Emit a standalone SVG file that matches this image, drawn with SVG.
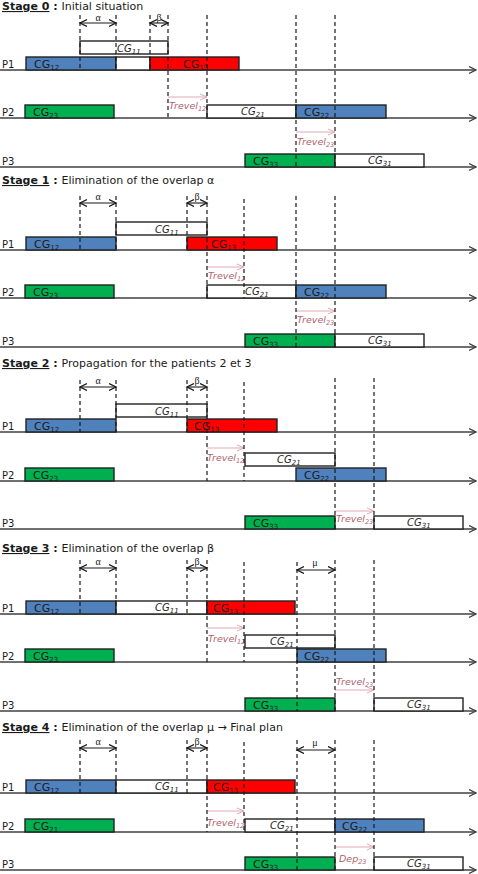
<svg xmlns="http://www.w3.org/2000/svg" width="478" height="874" viewBox="0 0 478 874">
<style>
.bg{fill:#fff}
.ax{stroke:#404040;stroke-width:1.5;fill:none;marker-end:url(#ah)}
.bx{stroke:#222;stroke-width:1.4}
.b{fill:#4f81bd}.r{fill:#ff0000}.g{fill:#00b050}.w{fill:#fff}
.d{stroke:#1a1a1a;stroke-width:1.2;stroke-dasharray:4 3;fill:none}
.m{stroke:#1a1a1a;stroke-width:1.1;fill:none;marker-start:url(#mh);marker-end:url(#mh)}
.t{stroke:#e3a9b2;stroke-width:1;fill:none;marker-end:url(#th)}
text{font-family:"DejaVu Sans","Verdana",sans-serif;fill:#1a1a1a}
.lb{font-size:11px}
.it{font-size:10px;font-style:italic}
.s{font-size:7px}
.tv{font-size:9.5px;font-style:italic;fill:#b35f6b}
.tv .s{font-size:6.5px}
.p{font-size:10px}
.gr{font-family:"Liberation Serif","DejaVu Serif",serif;font-size:10px}
.h{font-size:11px}
.hb{font-weight:bold}
.u{text-decoration:underline}
</style>
<defs>
<marker id="ah" markerUnits="userSpaceOnUse" markerWidth="9" markerHeight="9" refX="7" refY="4" orient="auto"><path d="M0,0.5 L7,4 L0,7.5" fill="none" stroke="#404040" stroke-width="1.3"/></marker>
<marker id="mh" markerUnits="userSpaceOnUse" markerWidth="10" markerHeight="10" refX="7" refY="4" orient="auto-start-reverse"><path d="M0,0.5 L7,4 L0,7.5" fill="none" stroke="#1a1a1a" stroke-width="1.3"/></marker>
<marker id="th" markerUnits="userSpaceOnUse" markerWidth="9" markerHeight="9" refX="7" refY="4" orient="auto"><path d="M0,1 L7,4 L0,7" fill="none" stroke="#e3a9b2" stroke-width="1"/></marker>
</defs>
<rect class="bg" x="0" y="0" width="478" height="874"/>

<!-- ================= STAGE 0 ================= -->
<g id="stage0">
<text class="h" x="2" y="10"><tspan class="hb u">Stage 0</tspan><tspan class="hb"> : </tspan>Initial situation</text>
<g id="s0-axes">
<line class="ax" x1="0" y1="70" x2="476" y2="70"/>
<line class="ax" x1="0" y1="118" x2="476" y2="118"/>
<line class="ax" x1="0" y1="167" x2="476" y2="167"/>
<text class="p" x="2" y="68">P1</text><text class="p" x="2" y="116">P2</text><text class="p" x="2" y="165">P3</text>
</g>
<g id="s0-CG11"><rect class="bx w" x="80" y="41" width="88" height="13"/><text class="it" x="117" y="52">CG<tspan class="s" dy="2">11</tspan></text></g>
<g id="s0-CG12"><rect class="bx b" x="26" y="57" width="90" height="13"/><text class="lb" x="34" y="68">CG<tspan class="s" dy="2">12</tspan></text></g>
<g id="s0-gap"><rect class="bx w" x="116" y="57" width="34" height="13"/></g>
<g id="s0-CG13"><rect class="bx r" x="150" y="57" width="89" height="13"/><text class="lb" x="183" y="68">CG<tspan class="s" dy="2">13</tspan></text></g>
<g id="s0-CG23"><rect class="bx g" x="25" y="105" width="89" height="13"/><text class="lb" x="33" y="116">CG<tspan class="s" dy="2">23</tspan></text></g>
<g id="s0-CG21"><rect class="bx w" x="207" y="105" width="89" height="13"/><text class="it" x="241" y="115">CG<tspan class="s" dy="2">21</tspan></text></g>
<g id="s0-CG22"><rect class="bx b" x="296" y="105" width="90" height="13"/><text class="lb" x="304" y="116">CG<tspan class="s" dy="2">22</tspan></text></g>
<g id="s0-CG33"><rect class="bx g" x="245" y="154" width="90" height="13"/><text class="lb" x="253" y="165">CG<tspan class="s" dy="2">33</tspan></text></g>
<g id="s0-CG31"><rect class="bx w" x="335" y="154" width="89" height="13"/><text class="it" x="368" y="164">CG<tspan class="s" dy="2">31</tspan></text></g>
<g id="s0-connectors">
<line class="m" x1="80" y1="23" x2="116" y2="23"/><text class="gr" x="98" y="21" text-anchor="middle">α</text>
<line class="m" x1="150" y1="23" x2="168" y2="23"/><text class="gr" x="159" y="21" text-anchor="middle">β</text>
<line class="t" x1="168" y1="97" x2="207" y2="97"/><text class="tv" x="169" y="109">Trevel<tspan class="s" dy="2">12</tspan></text>
<line class="t" x1="296" y1="132" x2="335" y2="132"/><text class="tv" x="297" y="145">Trevel<tspan class="s" dy="2">23</tspan></text>
<line class="d" x1="80" y1="15" x2="80" y2="70"/>
<line class="d" x1="116" y1="15" x2="116" y2="70"/>
<line class="d" x1="150" y1="15" x2="150" y2="70"/>
<line class="d" x1="168" y1="15" x2="168" y2="118"/>
<line class="d" x1="207" y1="15" x2="207" y2="118"/>
<line class="d" x1="296" y1="15" x2="296" y2="167"/>
<line class="d" x1="335" y1="15" x2="335" y2="167"/>
</g>
</g>

<!-- ================= STAGE 1 ================= -->
<g id="stage1">
<text class="h" x="2" y="184"><tspan class="hb u">Stage 1</tspan><tspan class="hb"> : </tspan>Elimination of the overlap α</text>
<g id="s1-axes">
<line class="ax" x1="0" y1="250" x2="476" y2="250"/>
<line class="ax" x1="0" y1="298" x2="476" y2="298"/>
<line class="ax" x1="0" y1="347" x2="476" y2="347"/>
<text class="p" x="2" y="248">P1</text><text class="p" x="2" y="296">P2</text><text class="p" x="2" y="345">P3</text>
</g>
<g id="s1-CG11"><rect class="bx w" x="116" y="222" width="91" height="13"/><text class="it" x="155" y="233">CG<tspan class="s" dy="2">11</tspan></text></g>
<g id="s1-CG12"><rect class="bx b" x="26" y="237" width="90" height="13"/><text class="lb" x="34" y="248">CG<tspan class="s" dy="2">12</tspan></text></g>
<g id="s1-CG13"><rect class="bx r" x="187" y="237" width="90" height="13"/><text class="lb" x="211" y="248">CG<tspan class="s" dy="2">13</tspan></text></g>
<g id="s1-CG23"><rect class="bx g" x="25" y="285" width="89" height="13"/><text class="lb" x="33" y="296">CG<tspan class="s" dy="2">23</tspan></text></g>
<g id="s1-CG21"><rect class="bx w" x="207" y="285" width="89" height="13"/><text class="it" x="245" y="295">CG<tspan class="s" dy="2">21</tspan></text></g>
<g id="s1-CG22"><rect class="bx b" x="296" y="285" width="90" height="13"/><text class="lb" x="304" y="296">CG<tspan class="s" dy="2">22</tspan></text></g>
<g id="s1-CG33"><rect class="bx g" x="245" y="334" width="90" height="13"/><text class="lb" x="253" y="345">CG<tspan class="s" dy="2">33</tspan></text></g>
<g id="s1-CG31"><rect class="bx w" x="335" y="334" width="89" height="13"/><text class="it" x="368" y="344">CG<tspan class="s" dy="2">31</tspan></text></g>
<g id="s1-connectors">
<line class="m" x1="80" y1="203" x2="116" y2="203"/><text class="gr" x="98" y="200" text-anchor="middle">α</text>
<line class="m" x1="187" y1="203" x2="207" y2="203"/><text class="gr" x="197" y="200" text-anchor="middle">β</text>
<line class="t" x1="207" y1="267" x2="244" y2="267"/><text class="tv" x="208" y="279">Trevel<tspan class="s" dy="2">12</tspan></text>
<line class="t" x1="296" y1="311" x2="335" y2="311"/><text class="tv" x="297" y="323">Trevel<tspan class="s" dy="2">23</tspan></text>
<line class="d" x1="80" y1="196" x2="80" y2="250"/>
<line class="d" x1="116" y1="196" x2="116" y2="250"/>
<line class="d" x1="187" y1="196" x2="187" y2="250"/>
<line class="d" x1="207" y1="196" x2="207" y2="298"/>
<line class="d" x1="244" y1="199" x2="244" y2="298"/>
<line class="d" x1="296" y1="196" x2="296" y2="347"/>
<line class="d" x1="335" y1="196" x2="335" y2="347"/>
</g>
</g>

<!-- ================= STAGE 2 ================= -->
<g id="stage2">
<text class="h" x="2" y="367"><tspan class="hb u">Stage 2</tspan><tspan class="hb"> : </tspan>Propagation for the patients 2 et 3</text>
<g id="s2-axes">
<line class="ax" x1="0" y1="432" x2="476" y2="432"/>
<line class="ax" x1="0" y1="481" x2="476" y2="481"/>
<line class="ax" x1="0" y1="529" x2="476" y2="529"/>
<text class="p" x="2" y="430">P1</text><text class="p" x="2" y="479">P2</text><text class="p" x="2" y="527">P3</text>
</g>
<g id="s2-CG11"><rect class="bx w" x="116" y="404" width="91" height="13"/><text class="it" x="155" y="415">CG<tspan class="s" dy="2">11</tspan></text></g>
<g id="s2-CG12"><rect class="bx b" x="26" y="419" width="90" height="13"/><text class="lb" x="34" y="430">CG<tspan class="s" dy="2">12</tspan></text></g>
<g id="s2-CG13"><rect class="bx r" x="187" y="419" width="90" height="13"/><text class="lb" x="194" y="430">CG<tspan class="s" dy="2">13</tspan></text></g>
<g id="s2-CG23"><rect class="bx g" x="25" y="468" width="89" height="13"/><text class="lb" x="33" y="479">CG<tspan class="s" dy="2">23</tspan></text></g>
<g id="s2-CG21"><rect class="bx w" x="245" y="453" width="90" height="13"/><text class="it" x="277" y="463">CG<tspan class="s" dy="2">21</tspan></text></g>
<g id="s2-CG22"><rect class="bx b" x="296" y="468" width="90" height="13"/><text class="lb" x="304" y="479">CG<tspan class="s" dy="2">22</tspan></text></g>
<g id="s2-CG33"><rect class="bx g" x="245" y="516" width="90" height="13"/><text class="lb" x="253" y="527">CG<tspan class="s" dy="2">33</tspan></text></g>
<g id="s2-CG31"><rect class="bx w" x="374" y="516" width="89" height="13"/><text class="it" x="407" y="526">CG<tspan class="s" dy="2">31</tspan></text></g>
<g id="s2-connectors">
<line class="m" x1="80" y1="387" x2="116" y2="387"/><text class="gr" x="98" y="384" text-anchor="middle">α</text>
<line class="m" x1="187" y1="387" x2="207" y2="387"/><text class="gr" x="197" y="384" text-anchor="middle">β</text>
<line class="t" x1="207" y1="448" x2="244" y2="448"/><text class="tv" x="207" y="461">Trevel<tspan class="s" dy="2">12</tspan></text>
<line class="t" x1="335" y1="511" x2="374" y2="511"/><text class="tv" x="336" y="522">Trevel<tspan class="s" dy="2">23</tspan></text>
<line class="d" x1="80" y1="380" x2="80" y2="432"/>
<line class="d" x1="116" y1="380" x2="116" y2="432"/>
<line class="d" x1="187" y1="380" x2="187" y2="432"/>
<line class="d" x1="207" y1="380" x2="207" y2="481"/>
<line class="d" x1="244" y1="382" x2="244" y2="481"/>
<line class="d" x1="335" y1="378" x2="335" y2="529"/>
<line class="d" x1="374" y1="378" x2="374" y2="529"/>
</g>
</g>

<!-- ================= STAGE 3 ================= -->
<g id="stage3">
<text class="h" x="2" y="552"><tspan class="hb u">Stage 3</tspan><tspan class="hb"> : </tspan>Elimination of the overlap β</text>
<g id="s3-axes">
<line class="ax" x1="0" y1="614" x2="476" y2="614"/>
<line class="ax" x1="0" y1="662" x2="476" y2="662"/>
<line class="ax" x1="0" y1="711" x2="476" y2="711"/>
<text class="p" x="2" y="612">P1</text><text class="p" x="2" y="660">P2</text><text class="p" x="2" y="709">P3</text>
</g>
<g id="s3-CG12"><rect class="bx b" x="26" y="601" width="90" height="13"/><text class="lb" x="34" y="612">CG<tspan class="s" dy="2">12</tspan></text></g>
<g id="s3-CG11"><rect class="bx w" x="116" y="601" width="91" height="13"/><text class="it" x="155" y="611">CG<tspan class="s" dy="2">11</tspan></text></g>
<g id="s3-CG13"><rect class="bx r" x="207" y="601" width="88" height="13"/><text class="lb" x="213" y="612">CG<tspan class="s" dy="2">13</tspan></text></g>
<g id="s3-CG23"><rect class="bx g" x="25" y="649" width="89" height="13"/><text class="lb" x="33" y="660">CG<tspan class="s" dy="2">23</tspan></text></g>
<g id="s3-CG21"><rect class="bx w" x="245" y="635" width="90" height="13"/><text class="it" x="270" y="645">CG<tspan class="s" dy="2">21</tspan></text></g>
<g id="s3-CG22"><rect class="bx b" x="297" y="649" width="89" height="13"/><text class="lb" x="304" y="660">CG<tspan class="s" dy="2">22</tspan></text></g>
<g id="s3-CG33"><rect class="bx g" x="245" y="698" width="90" height="13"/><text class="lb" x="253" y="709">CG<tspan class="s" dy="2">33</tspan></text></g>
<g id="s3-CG31"><rect class="bx w" x="374" y="698" width="89" height="13"/><text class="it" x="407" y="708">CG<tspan class="s" dy="2">31</tspan></text></g>
<g id="s3-connectors">
<line class="m" x1="80" y1="568" x2="116" y2="568"/><text class="gr" x="98" y="565" text-anchor="middle">α</text>
<line class="m" x1="187" y1="568" x2="207" y2="568"/><text class="gr" x="197" y="565" text-anchor="middle">β</text>
<line class="m" x1="297" y1="570" x2="335" y2="570"/><text class="gr" x="315" y="566" text-anchor="middle">μ</text>
<line class="t" x1="207" y1="628" x2="244" y2="628"/><text class="tv" x="208" y="642">Trevel<tspan class="s" dy="2">12</tspan></text>
<text class="tv" x="336" y="685">Trevel<tspan class="s" dy="2">23</tspan></text><line class="t" x1="335" y1="690" x2="374" y2="690"/>
<line class="d" x1="80" y1="560" x2="80" y2="614"/>
<line class="d" x1="116" y1="560" x2="116" y2="614"/>
<line class="d" x1="187" y1="560" x2="187" y2="614"/>
<line class="d" x1="207" y1="560" x2="207" y2="662"/>
<line class="d" x1="244" y1="562" x2="244" y2="662"/>
<line class="d" x1="297" y1="562" x2="297" y2="711"/>
<line class="d" x1="335" y1="560" x2="335" y2="711"/>
<line class="d" x1="374" y1="560" x2="374" y2="711"/>
</g>
</g>

<!-- ================= STAGE 4 ================= -->
<g id="stage4">
<text class="h" x="2" y="731"><tspan class="hb u">Stage 4</tspan><tspan class="hb"> : </tspan>Elimination of the overlap μ → Final plan</text>
<g id="s4-axes">
<line class="ax" x1="0" y1="793" x2="476" y2="793"/>
<line class="ax" x1="0" y1="832" x2="476" y2="832"/>
<line class="ax" x1="0" y1="870" x2="476" y2="870"/>
<text class="p" x="2" y="791">P1</text><text class="p" x="2" y="830">P2</text><text class="p" x="2" y="868">P3</text>
</g>
<g id="s4-CG12"><rect class="bx b" x="26" y="780" width="90" height="13"/><text class="lb" x="34" y="791">CG<tspan class="s" dy="2">12</tspan></text></g>
<g id="s4-CG11"><rect class="bx w" x="116" y="780" width="91" height="13"/><text class="it" x="155" y="790">CG<tspan class="s" dy="2">11</tspan></text></g>
<g id="s4-CG13"><rect class="bx r" x="207" y="780" width="88" height="13"/><text class="lb" x="213" y="791">CG<tspan class="s" dy="2">13</tspan></text></g>
<g id="s4-CG21g"><rect class="bx g" x="25" y="819" width="89" height="13"/><text class="lb" x="33" y="830">CG<tspan class="s" dy="2">21</tspan></text></g>
<g id="s4-CG21"><rect class="bx w" x="245" y="819" width="90" height="13"/><text class="it" x="270" y="829">CG<tspan class="s" dy="2">21</tspan></text></g>
<g id="s4-CG22"><rect class="bx b" x="335" y="819" width="89" height="13"/><text class="lb" x="342" y="830">CG<tspan class="s" dy="2">22</tspan></text></g>
<g id="s4-CG33"><rect class="bx g" x="245" y="857" width="90" height="13"/><text class="lb" x="253" y="868">CG<tspan class="s" dy="2">33</tspan></text></g>
<g id="s4-CG31"><rect class="bx w" x="374" y="857" width="89" height="13"/><text class="it" x="407" y="867">CG<tspan class="s" dy="2">31</tspan></text></g>
<g id="s4-connectors">
<line class="m" x1="80" y1="748" x2="116" y2="748"/><text class="gr" x="98" y="745" text-anchor="middle">α</text>
<line class="m" x1="187" y1="748" x2="207" y2="748"/><text class="gr" x="197" y="745" text-anchor="middle">β</text>
<line class="m" x1="297" y1="750" x2="335" y2="750"/><text class="gr" x="315" y="746" text-anchor="middle">μ</text>
<line class="t" x1="207" y1="811" x2="244" y2="811"/><text class="tv" x="207" y="826">Trevel<tspan class="s" dy="2">12</tspan></text>
<line class="t" x1="335" y1="847" x2="374" y2="847"/><text class="tv" x="339" y="862">Dep<tspan class="s" dy="2">23</tspan></text>
<line class="d" x1="80" y1="740" x2="80" y2="793"/>
<line class="d" x1="116" y1="740" x2="116" y2="793"/>
<line class="d" x1="187" y1="740" x2="187" y2="793"/>
<line class="d" x1="207" y1="740" x2="207" y2="832"/>
<line class="d" x1="244" y1="742" x2="244" y2="832"/>
<line class="d" x1="297" y1="740" x2="297" y2="870"/>
<line class="d" x1="335" y1="740" x2="335" y2="870"/>
<line class="d" x1="374" y1="740" x2="374" y2="870"/>
</g>
</g>
</svg>
